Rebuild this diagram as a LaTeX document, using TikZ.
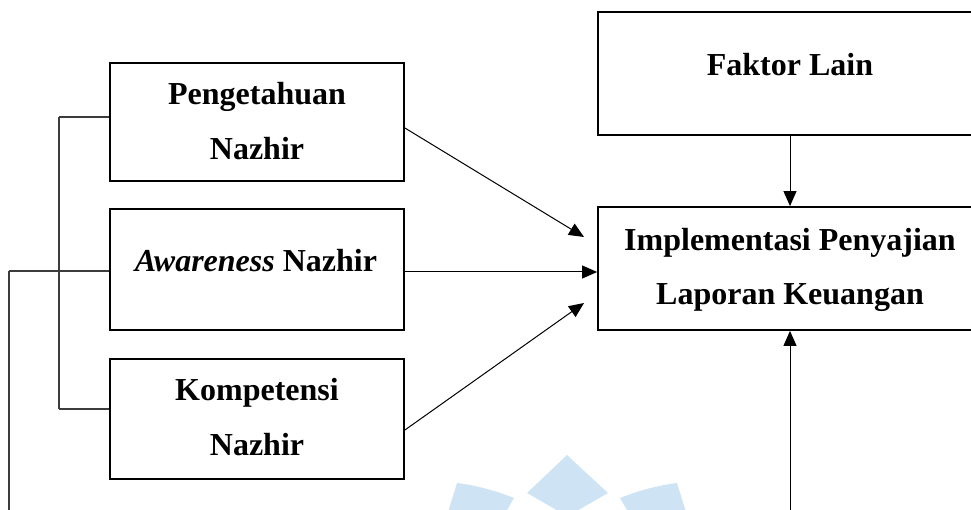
\documentclass[tikz,border=0pt]{standalone}
\usepackage{fontspec}
\setmainfont{Liberation Serif}
\usetikzlibrary{arrows.meta,calc}
\definecolor{wm}{RGB}{206,228,245}
\definecolor{brk}{RGB}{60,60,60}
\tikzset{
  box/.style={draw=black,line width=1.8pt,minimum width=294pt,inner sep=0pt},
  bigbox/.style={draw=black,line width=1.8pt,minimum width=384pt,inner sep=0pt},
  txt/.style={anchor=base,inner sep=0pt,font=\fontsize{32pt}{55pt}\selectfont\bfseries},
  arr/.style={line width=1pt,-{Triangle[length=15pt,width=13pt]}},
  brline/.style={draw=brk,line width=1.1pt}
}
\begin{document}
\begin{tikzpicture}[x=1pt,y=-1pt]
\useasboundingbox (0,0) rectangle (971,510);
\clip (0,0) rectangle (971,510);
% faint watermark
\fill[wm] (567,455) -- (608,493) -- (575,512) -- (560,512) -- (527,493) -- cycle;
\fill[wm] (620,498) .. controls (640,490) and (660,485) .. (677,483) -- (686,512) -- (628,512) -- cycle;
\fill[wm] (514,498) .. controls (494,490) and (474,485) .. (457,483) -- (448,512) -- (506,512) -- cycle;
% boxes
\node[box,minimum height=118pt] (p) at (257,122) {};
\node[box,minimum height=121pt] (a) at (257,269.5) {};
\node[box,minimum height=120pt] (k) at (257,419) {};
\node[bigbox,minimum height=123pt] (f) at (790,73.5) {};
\node[bigbox,minimum height=123pt] (impl) at (790,268.5) {};
% texts
\node[txt] (pt1) at (257,105) {Pengetahuan};
\node[txt] (pt2) at (257,160) {Nazhir};
\node[txt] (at1) at (256,272) {\textit{Awareness} Nazhir};
\node[txt] (kt1) at (257,400) {Kompetensi};
\node[txt] (kt2) at (257,455) {Nazhir};
\node[txt] (ft1) at (790,76) {Faktor Lain};
\node[txt] (it1) at (790,251) {Implementasi Penyajian};
\node[txt] (it2) at (790,305) {Laporan Keuangan};
% coordinates
\coordinate (t1) at (584,237);
\coordinate (t3) at (584,303);
\coordinate (bot) at (790,515);
\coordinate (b1) at (59,117);
\coordinate (b3) at (59,409);
\coordinate (o1) at (9,271);
\coordinate (o2) at (9,515);
% arrows
\draw[arr] ($(p.east)+(0,6)$) -- (t1);
\draw[arr] (a.east |- 0,272) -- (impl.west |- 0,272);
\draw[arr] ($(k.east)+(0,11)$) -- (t3);
\draw[arr] (f.south) -- (impl.north);
\draw[arr] (bot) -- (impl.south);
% bracket
\draw[brline] (b1) -- (p.west |- b1);
\draw[brline] (b1) -- (b3);
\draw[brline] (b3) -- (k.west |- b3);
\draw[brline] (o1) -- (a.west |- o1);
\draw[brline] (o1) -- (o2);
\end{tikzpicture}
\end{document}
